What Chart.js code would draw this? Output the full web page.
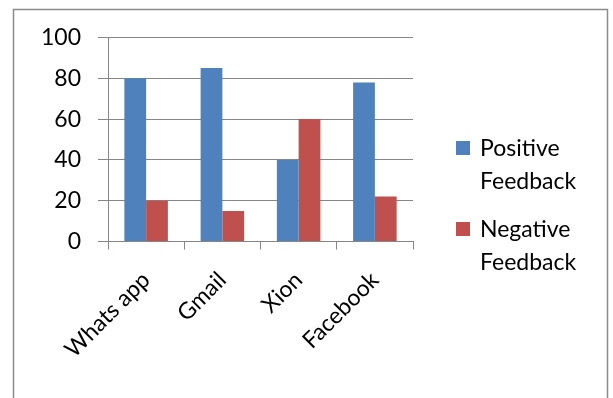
<!DOCTYPE html>
<html>
<head>
<meta charset="utf-8">
<script src="https://cdn.jsdelivr.net/npm/chart.js@4.4.0/dist/chart.umd.min.js"></script>
<style>
  html, body { margin: 0; padding: 0; background: #fff; }
  #wrap { width: 613px; height: 398px; }
</style>
</head>
<body>
<div id="wrap"><canvas id="feedbackChart" width="613" height="398"></canvas></div>
<script>
// chart data
const categories = ['Whats app', 'Gmail', 'Xion', 'Facebook'];
const positiveFeedback = [80, 85, 40, 78];
const negativeFeedback = [20, 15, 60, 22];
const yTicks = [0, 20, 40, 60, 80, 100];

const FONT = 'Lato, "Open Sans", sans-serif';
const GRID = '#868686';

// outer frame of the chart
const framePlugin = {
    id: 'frame',
    beforeDraw(chart) {
        const c = chart.ctx;
        c.save();
        c.fillStyle = '#fff';
        c.fillRect(0, 0, chart.width, chart.height);
        c.strokeStyle = '#8c8c8c';
        c.lineWidth = 1.5;
        c.strokeRect(13.5, 9.5, 594, 400);
        c.restore();
    }
};

// legend on the right, labels wrapped on two lines
const sideLegend = {
    id: 'sideLegend',
    afterDraw(chart) {
        const c = chart.ctx;
        const x = 456;
        let y = 141;
        c.save();
        c.font = '23px ' + FONT;
        c.textBaseline = 'middle';
        c.fillStyle = '#000';
        chart.data.datasets.forEach(ds => {
            c.fillStyle = ds.backgroundColor;
            c.fillRect(x, y, 14, 14);
            c.fillStyle = '#000';
            const lines = ds.label.split(' ');
            lines.forEach((ln, i) => c.fillText(ln, x + 24, y + 8 + i * 33));
            y += 81;
        });
        c.restore();
    }
};

const ctx = document.getElementById('feedbackChart').getContext('2d');
new Chart(ctx, {
    type: 'bar',
    data: {
        labels: categories,
        datasets: [{
            label: 'Positive Feedback',
            data: positiveFeedback,
            backgroundColor: '#4F81BD',
            categoryPercentage: 0.571,
            barPercentage: 1.0
        }, {
            label: 'Negative Feedback',
            data: negativeFeedback,
            backgroundColor: '#C0504D',
            categoryPercentage: 0.571,
            barPercentage: 1.0
        }]
    },
    options: {
        responsive: false,
        animation: false,
        layout: { padding: { left: 0, top: 37.5, right: 200, bottom: 0 } },
        plugins: {
            legend: { display: false },
            tooltip: { enabled: false }
        },
        scales: {
            x: {
                grid: { display: true, drawOnChartArea: false, drawTicks: true, tickLength: 8, color: GRID, offset: true },
                border: { color: GRID, width: 1 },
                ticks: {
                    color: '#000',
                    font: { family: FONT, size: 23 },
                    minRotation: 45,
                    maxRotation: 45,
                    padding: 17
                },
                afterFit(scale) { scale.height = 156.5; }
            },
            y: {
                min: 0,
                max: 100,
                afterBuildTicks(scale) { scale.ticks = yTicks.map(v => ({ value: v })); },
                grid: { color: GRID, tickLength: 10 },
                border: { color: GRID, width: 1 },
                ticks: {
                    color: '#000',
                    font: { family: FONT, size: 23 },
                    padding: 17
                },
                afterFit(scale) { scale.width = 108; }
            }
        }
    },
    plugins: [framePlugin, sideLegend]
});
</script>
</body>
</html>
